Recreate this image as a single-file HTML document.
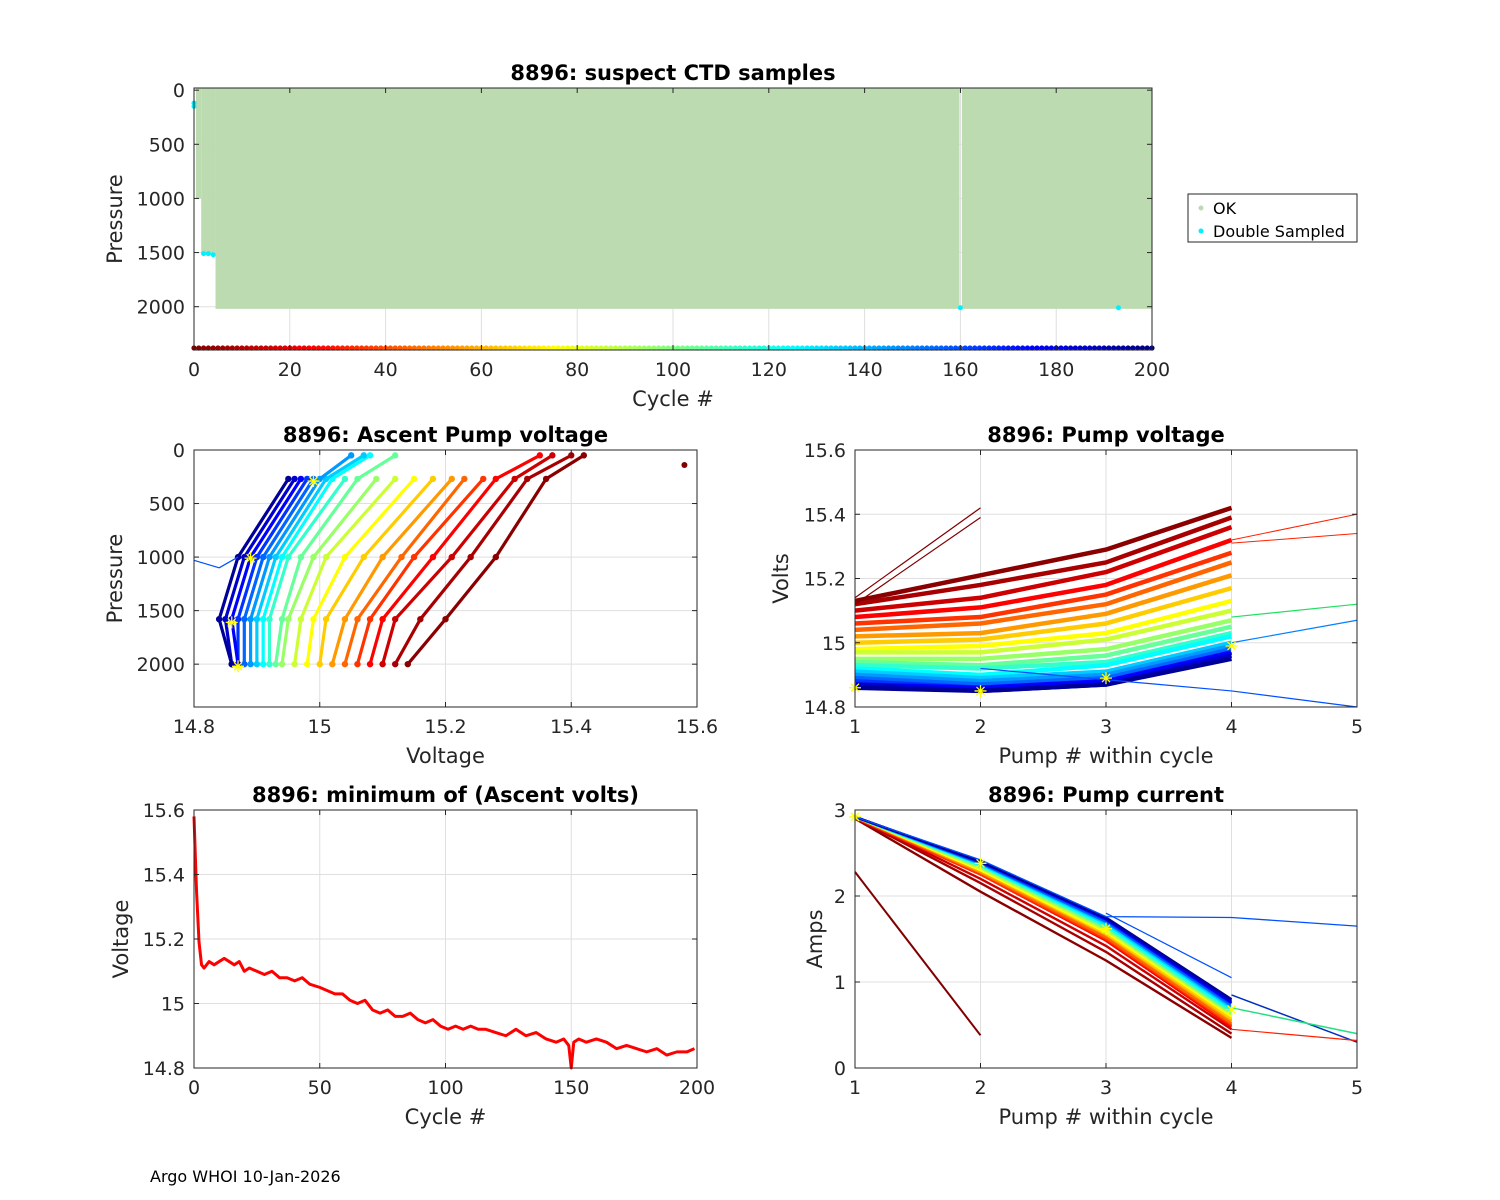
<!DOCTYPE html>
<html><head><meta charset="utf-8">
<style>
body{margin:0;background:#fff;}
svg{display:block;font-family:"DejaVu Sans","Liberation Sans",sans-serif;}
.tk{font-size:19px;fill:#262626;}
.lb{font-size:21px;fill:#262626;}
.tt{font-size:21px;font-weight:bold;fill:#000;}
</style></head>
<body>
<svg id="fig" width="1500" height="1200" viewBox="0 0 1500 1200" xmlns="http://www.w3.org/2000/svg">
<rect width="1500" height="1200" fill="#fff"/>
<text x="150" y="1182" font-size="16" fill="#000">Argo WHOI 10-Jan-2026</text>
</svg>
<script>
// ---------- data ----------
const okSegStart=[0.4,1.5,4.5,160.3];
const okSegEnd=[1.5,4.5,159.8,200];
const okSegDepth=[1000,1520,2020,2020];
const dblCycle=[0,0,2,3,4,160,193];
const dblPres=[120,150,1510,1510,1520,2010,2010];
const cycleCount=200;
const ascCycles=[2,8,15,25,35,45,55,65,75,85,95,105,115,125,135,145,155,165,175,185,195];
const ascPres=[2000,1580,1000,270,50];
const v2000=[15.14,15.12,15.10,15.08,15.06,15.04,15.02,15.00,14.98,14.96,14.94,14.93,14.92,14.91,14.90,14.89,14.88,14.87,14.87,14.86,14.86];
const v1580=[15.20,15.16,15.12,15.10,15.08,15.06,15.04,15.01,14.99,14.97,14.95,14.94,14.92,14.91,14.90,14.89,14.88,14.87,14.86,14.85,14.84];
const v1000=[15.28,15.24,15.21,15.18,15.15,15.13,15.10,15.07,15.04,15.01,14.99,14.97,14.95,14.94,14.93,14.92,14.91,14.90,14.89,14.88,14.87];
const v270=[15.36,15.33,15.31,15.28,15.26,15.23,15.21,15.18,15.15,15.12,15.09,15.06,15.04,15.02,15.01,15.00,14.99,14.98,14.97,14.96,14.95];
const v50=[15.42,15.40,15.37,15.35,null,null,null,null,null,null,null,15.12,null,15.08,15.07,15.05,null,null,null,null,null];
const pvCycles=[2,8,15,25,35,45,55,65,75,85,95,105,115,125,135,145,155,165,175,185,195];
const pv1=[15.13,15.12,15.10,15.08,15.06,15.04,15.02,15.00,14.98,14.97,14.95,14.94,14.93,14.92,14.91,14.90,14.89,14.88,14.87,14.87,14.86];
const pv2=[15.21,15.18,15.14,15.11,15.08,15.06,15.03,15.01,14.99,14.97,14.95,14.93,14.92,14.90,14.89,14.88,14.87,14.86,14.86,14.85,14.85];
const pv3=[15.29,15.25,15.22,15.18,15.15,15.12,15.09,15.06,15.03,15.01,14.98,14.96,14.94,14.93,14.91,14.90,14.89,14.88,14.88,14.87,14.87];
const pv4=[15.42,15.39,15.36,15.32,15.28,15.25,15.21,15.17,15.13,15.10,15.07,15.05,15.03,15.02,15.00,14.99,14.98,14.97,14.97,14.96,14.95];
const pcCycles=[2,8,15,25,35,45,55,65,75,85,95,105,115,125,135,145,155,165,175,185,195];
const pc1=[2.90,2.91,2.91,2.91,2.91,2.92,2.92,2.92,2.92,2.92,2.92,2.92,2.92,2.92,2.92,2.92,2.92,2.92,2.92,2.92,2.92];
const pc2=[2.05,2.15,2.20,2.25,2.25,2.27,2.28,2.30,2.30,2.32,2.33,2.35,2.35,2.36,2.37,2.38,2.38,2.39,2.40,2.40,2.40];
const pc3=[1.25,1.35,1.42,1.48,1.50,1.52,1.55,1.56,1.58,1.60,1.62,1.63,1.65,1.66,1.68,1.70,1.70,1.72,1.73,1.74,1.75];
const pc4=[0.35,0.40,0.45,0.48,0.50,0.52,0.55,0.57,0.60,0.62,0.63,0.65,0.66,0.68,0.70,0.72,0.73,0.75,0.76,0.78,0.80];
const minCyc=[0,1,2,3,4,6,8,10,12,14,16,18,20,22,25,28,31,34,37,40,43,46,50,53,56,59,62,65,68,71,74,77,80,83,86,89,92,95,98,101,104,107,110,113,116,120,124,128,132,136,140,144,147,149,150,151,153,156,160,164,168,172,176,180,184,188,192,196,199];
const minV=[15.58,15.35,15.19,15.12,15.11,15.13,15.12,15.13,15.14,15.13,15.12,15.13,15.10,15.11,15.10,15.09,15.10,15.08,15.08,15.07,15.08,15.06,15.05,15.04,15.03,15.03,15.01,15.00,15.01,14.98,14.97,14.98,14.96,14.96,14.97,14.95,14.94,14.95,14.93,14.92,14.93,14.92,14.93,14.92,14.92,14.91,14.90,14.92,14.90,14.91,14.89,14.88,14.89,14.87,14.80,14.88,14.89,14.88,14.89,14.88,14.86,14.87,14.86,14.85,14.86,14.84,14.85,14.85,14.86];

// ---------- helpers ----------
const svg=document.getElementById('fig');
const NS='http://www.w3.org/2000/svg';
function mk(tag,attrs,parent){const e=document.createElementNS(NS,tag);for(const k in attrs)e.setAttribute(k,attrs[k]);(parent||svg).appendChild(e);return e;}
function jet(t){t=Math.max(0,Math.min(1,t));const f=x=>Math.round(255*Math.max(0,Math.min(1,x)));
 return `rgb(${f(1.5-Math.abs(4*t-3))},${f(1.5-Math.abs(4*t-2))},${f(1.5-Math.abs(4*t-1))})`;}
function cyc(c){return jet(1-c/200);}
function axes(name,x0,y0,w,h,xd,yd,xt,yt,rev,xl,yl,title,xtl,ytl){
 const g=mk('g',{});
 
 
 const sx=v=>x0+(v-xd[0])/(xd[1]-xd[0])*w;
 const sy=rev?(v=>y0+(v-yd[0])/(yd[1]-yd[0])*h):(v=>y0+h-(v-yd[0])/(yd[1]-yd[0])*h);
 mk('rect',{x:x0,y:y0,width:w,height:h,fill:'#fff'},g);
 const grid=mk('g',{stroke:'#dfdfdf','stroke-width':1},g);
 xt.forEach(v=>mk('line',{x1:sx(v),x2:sx(v),y1:y0,y2:y0+h},grid));
 yt.forEach(v=>mk('line',{x1:x0,x2:x0+w,y1:sy(v),y2:sy(v)},grid));
 const plot=mk('g',{},g);
 const over=mk('g',{},svg);
 return {g,plot,over,sx,sy,finish(){
  mk('rect',{x:x0,y:y0,width:w,height:h,fill:'none',stroke:'#262626','stroke-width':1},over);
  xt.forEach((v,i)=>{mk('line',{x1:sx(v),x2:sx(v),y1:y0+h,y2:y0+h-5,stroke:'#262626'},over);mk('line',{x1:sx(v),x2:sx(v),y1:y0,y2:y0+5,stroke:'#262626'},over);
   const t=mk('text',{x:sx(v),y:y0+h+26,'text-anchor':'middle',class:'tk'},over);t.textContent=xtl?xtl[i]:v;
   });
  yt.forEach((v,i)=>{mk('line',{x1:x0,x2:x0+5,y1:sy(v),y2:sy(v),stroke:'#262626'},over);mk('line',{x1:x0+w,x2:x0+w-5,y1:sy(v),y2:sy(v),stroke:'#262626'},over);
   const t=mk('text',{x:x0-9,y:sy(v)+7,'text-anchor':'end',class:'tk'},over);t.textContent=ytl?ytl[i]:v;
   });
  const xa=mk('text',{x:x0+w/2,y:y0+h+56,'text-anchor':'middle',class:'lb'},over);xa.textContent=xl;
  
  const ya=mk('text',{x:0,y:0,'text-anchor':'middle',class:'lb',transform:`translate(${yl[1]},${y0+h/2}) rotate(-90)`},over);ya.textContent=yl[0];
  
  const tt=mk('text',{x:x0+w/2,y:y0-8,'text-anchor':'middle',class:'tt'},over);tt.textContent=title;
  
 }};
}
function poly(p,pts,color,sw){const d=pts.filter(q=>q[0]!=null&&q[1]!=null).map(q=>q.join(',')).join(' ');
 const l=mk('polyline',{points:d,fill:'none',stroke:color,'stroke-width':sw||1.2,'stroke-linejoin':'round'},p);return l;}
function dot(p,x,y,c,r){return mk('circle',{cx:x,cy:y,r:r||2.6,fill:c},p);}
function star(p,x,y){mk('path',{d:`M${x-6},${y}h12M${x},${y-6}v12M${x-4},${y-4}l8,8M${x-4},${y+4}l8,-8`,stroke:'#ffff00','stroke-width':1.3},p);}

// ---------- top ----------
{const A=axes('suspect-ctd-chart',194,88,958,262,[0,200],[-20,2400],[0,20,40,60,80,100,120,140,160,180,200],[0,500,1000,1500,2000],true,'Cycle #',['Pressure',122],'8896: suspect CTD samples');
 okSegStart.forEach((s,i)=>{const r=mk('rect',{x:A.sx(s),y:A.sy(-20),width:A.sx(okSegEnd[i])-A.sx(s),height:A.sy(okSegDepth[i])-A.sy(-20),fill:'#bcdbb0'},A.plot);
  });
 dblCycle.forEach((c,i)=>{const d=dot(A.plot,A.sx(c),A.sy(dblPres[i]),'#00f0ff',2.5);
  });
 for(let c=0;c<=cycleCount;c++){const d=dot(A.plot,A.sx(c),A.sy(2400)-2,cyc(c),2.6);
  }
 A.finish();
 const lg=mk('g',{});
 mk('rect',{x:1188,y:194,width:169,height:48,fill:'#fff',stroke:'#262626'},lg);
 dot(lg,1201,208,'#bcdbb0',2.5);dot(lg,1201,231,'#00f0ff',2.5);
 const t1=mk('text',{x:1213,y:214,'font-size':16,fill:'#000'},lg);t1.textContent='OK';
 
 const t2=mk('text',{x:1213,y:237,'font-size':16,fill:'#000'},lg);t2.textContent='Double Sampled';
 
}
// ---------- ascent pump voltage ----------
{const A=axes('ascent-pump-voltage-chart',194,450,503,257,[14.8,15.6],[0,2400],[14.8,15,15.2,15.4,15.6],[0,500,1000,1500,2000],true,'Voltage',['Pressure',122],'8896: Ascent Pump voltage');
 ascCycles.forEach((c,i)=>{const col=cyc(c);const vs=[v2000[i],v1580[i],v1000[i],v270[i],v50[i]];
  const pts=vs.map((v,j)=>[v==null?null:A.sx(v),A.sy(ascPres[j])]);
  const l=poly(A.plot,pts,col,3.2);
  pts.forEach(p=>{if(p[0]!=null){const d=dot(A.plot,p[0],p[1],col,3.2);}});});
 poly(A.plot,[[A.sx(14.8),A.sy(1030)],[A.sx(14.84),A.sy(1100)],[A.sx(14.87),A.sy(1000)]],'#0050ff',1.2);
 dot(A.plot,A.sx(15.58),A.sy(140),'#800000',3);
 star(A.plot,A.sx(14.99),A.sy(290));star(A.plot,A.sx(14.89),A.sy(1010));star(A.plot,A.sx(14.86),A.sy(1610));star(A.plot,A.sx(14.87),A.sy(2020));
 A.finish();}
// ---------- pump voltage ----------
{const A=axes('pump-voltage-chart',855,450,502,257,[1,5],[14.8,15.6],[1,2,3,4,5],[14.8,15,15.2,15.4,15.6],false,'Pump # within cycle',['Volts',788],'8896: Pump voltage',null,['14.8','15','15.2','15.4','15.6']);
 pvCycles.forEach((c,i)=>{const pts=[pv1[i],pv2[i],pv3[i],pv4[i]].map((v,j)=>[A.sx(j+1),A.sy(v)]);
  const l=poly(A.plot,pts,cyc(c),4.5);});
 poly(A.plot,[[A.sx(1),A.sy(15.14)],[A.sx(2),A.sy(15.42)]],'#800000',1.2);
 poly(A.plot,[[A.sx(1),A.sy(15.12)],[A.sx(2),A.sy(15.39)]],'#800000',1.2);
 poly(A.plot,[[A.sx(4),A.sy(15.32)],[A.sx(5),A.sy(15.40)]],'#ff2000',1);
 poly(A.plot,[[A.sx(4),A.sy(15.31)],[A.sx(5),A.sy(15.34)]],'#ff2000',1);
 poly(A.plot,[[A.sx(4),A.sy(15.08)],[A.sx(5),A.sy(15.12)]],'#20e060',1.2);
 poly(A.plot,[[A.sx(4),A.sy(15.0)],[A.sx(5),A.sy(15.07)]],'#0080ff',1.2);
 poly(A.plot,[[A.sx(2),A.sy(14.92)],[A.sx(4),A.sy(14.85)],[A.sx(5),A.sy(14.80)]],'#0050ff',1.2);
 star(A.plot,A.sx(1),A.sy(14.86));star(A.plot,A.sx(2),A.sy(14.85));star(A.plot,A.sx(3),A.sy(14.89));star(A.plot,A.sx(4),A.sy(14.99));
 A.finish();}
// ---------- minimum ascent volts ----------
{const A=axes('minimum-ascent-volts-chart',194,810,503,258,[0,200],[14.8,15.6],[0,50,100,150,200],[14.8,15,15.2,15.4,15.6],false,'Cycle #',['Voltage',128],'8896: minimum of (Ascent volts)',null,['14.8','15','15.2','15.4','15.6']);
 const l=poly(A.plot,minCyc.map((c,i)=>[A.sx(c),A.sy(minV[i])]),'#ff0000',3);
 
 A.finish();}
// ---------- pump current ----------
{const A=axes('pump-current-chart',855,810,502,258,[1,5],[0,3],[1,2,3,4,5],[0,1,2,3],false,'Pump # within cycle',['Amps',822],'8896: Pump current');
 pcCycles.forEach((c,i)=>{const pts=[pc1[i],pc2[i],pc3[i],pc4[i]].map((v,j)=>[A.sx(j+1),A.sy(v)]);
  const l=poly(A.plot,pts,cyc(c),2.4);});
 poly(A.plot,[[A.sx(1),A.sy(2.28)],[A.sx(2),A.sy(0.38)]],'#800000',2);
 poly(A.plot,[[A.sx(1),A.sy(2.92)],[A.sx(2),A.sy(2.42)],[A.sx(3),A.sy(1.76)],[A.sx(4),A.sy(1.75)],[A.sx(5),A.sy(1.65)]],'#0050ff',1.3);
 poly(A.plot,[[A.sx(3),A.sy(1.8)],[A.sx(4),A.sy(1.05)]],'#0050ff',1.2);
 poly(A.plot,[[A.sx(4),A.sy(0.85)],[A.sx(5),A.sy(0.3)]],'#0030c0',1.5);
 poly(A.plot,[[A.sx(4),A.sy(0.7)],[A.sx(5),A.sy(0.4)]],'#20e080',1.5);
 poly(A.plot,[[A.sx(4),A.sy(0.45)],[A.sx(5),A.sy(0.32)]],'#ff2000',1.2);
 star(A.plot,A.sx(1),A.sy(2.92));star(A.plot,A.sx(2),A.sy(2.38));star(A.plot,A.sx(3),A.sy(1.62));star(A.plot,A.sx(4),A.sy(0.68));
 A.finish();}
</script>
</body></html>
